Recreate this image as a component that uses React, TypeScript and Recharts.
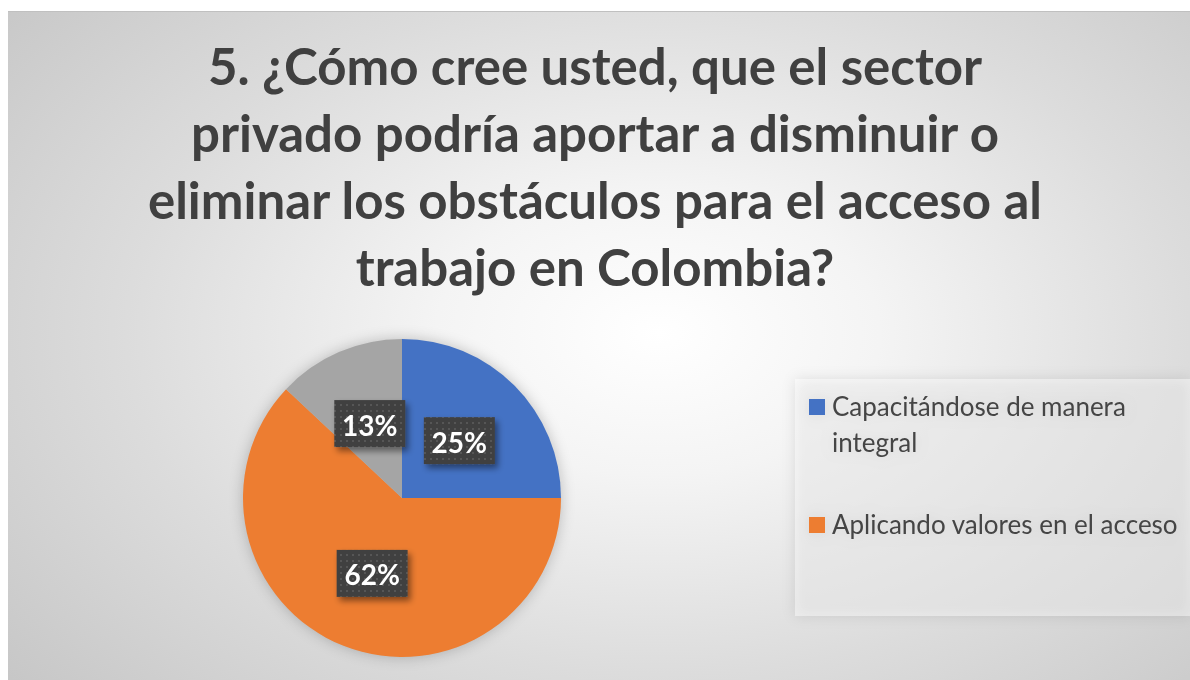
import React from 'react';
import { PieChart, Pie, Cell, Legend } from 'recharts';

// ── Data ──────────────────────────────────────────────────────────────────────
const TITLE_LINES = [
  '5. ¿Cómo cree usted, que el sector',
  'privado podría aportar a disminuir o',
  'eliminar los obstáculos para el acceso al',
  'trabajo en Colombia?',
];
const CATEGORIES = ['Capacitándose de manera integral', 'Aplicando valores en el acceso', 'Otro'];
const VALUES = [25, 62, 13];
const COLORS = ['#4472C4', '#ED7D31', '#A5A5A5'];
// only the first two entries fit in the legend box of the original
const LEGEND_SHOWN = ['Capacitándose de manera integral', 'Aplicando valores en el acceso'];

const data = CATEGORIES.map((name, i) => ({ name, value: VALUES[i] }));

const W = 1182;
const H = 669;
const FONT = 'Lato, "Open Sans", sans-serif';
const RADIAN = Math.PI / 180;

// ── Dark boxed percentage label ─────────────────────────────────────────────
const BoxLabel = (props: any) => {
  const { cx, cy, midAngle, outerRadius, percent } = props;
  const r = outerRadius * 0.51;
  const x = cx + r * Math.cos(-midAngle * RADIAN);
  const y = cy + r * Math.sin(-midAngle * RADIAN);
  const bw = 71;
  const bh = 47;
  return (
    <g>
      <rect x={x - bw / 2} y={y - bh / 2} width={bw} height={bh} fill="url(#dotPattern)" filter="url(#labelShadow)" />
      <text x={x} y={y + 1} fill="#ffffff" fontSize={28} fontWeight={700} fontFamily={FONT} textAnchor="middle" dominantBaseline="central">
        {`${Math.round(percent * 100)}%`}
      </text>
    </g>
  );
};

// ── Legend ───────────────────────────────────────────────────────────────────
const LegendBox = ({ payload }: any) => {
  const items = (payload || [])
    .filter((p: any) => LEGEND_SHOWN.includes(p.value))
    .sort((a: any, b: any) => CATEGORIES.indexOf(a.value) - CATEGORIES.indexOf(b.value));
  return (
    <div style={{ width: 395, height: 237, background: 'rgba(255,255,255,0.45)', boxSizing: 'border-box', paddingTop: 9, paddingLeft: 14 }}>
      {items.map((p: any, i: number) => (
        <div key={p.value} style={{ display: 'flex', alignItems: 'flex-start', height: i === 0 ? 118 : 40 }}>
          <span style={{ width: 16, height: 16, background: p.color, marginTop: 11, marginRight: 7, flexShrink: 0 }} />
          <span style={{ width: 358, fontFamily: FONT, fontSize: 26, lineHeight: '36px', color: '#454545' }}>{p.value}</span>
        </div>
      ))}
    </div>
  );
};

export default function App() {
  return (
    <div>
      <style>{'body{margin:0;overflow:hidden;background:#fff}'}</style>
      <svg width={0} height={0} style={{ position: 'absolute' }}>
        <defs>
          <pattern id="dotPattern" width={6} height={6} patternUnits="userSpaceOnUse">
            <rect width={6} height={6} fill="#404040" />
            <rect x={2} y={2} width={2} height={2} fill="#565656" />
          </pattern>
          <filter id="labelShadow" x="-30%" y="-30%" width="160%" height="170%">
            <feDropShadow dx={3} dy={4} stdDeviation={3} floodColor="#000" floodOpacity={0.45} />
          </filter>
        </defs>
      </svg>
      <div
        style={{
          position: 'absolute',
          left: 8,
          top: 11,
          width: W,
          height: H,
          borderTop: '1px solid #c0c0c0',
          background: 'radial-gradient(ellipse 75% 85% at 55% 48%, #ffffff 0%, #f4f4f4 25%, #dcdcdc 60%, #c4c4c4 100%)',
        }}
      >
        <div
          style={{
            position: 'absolute',
            left: 0,
            top: 20,
            width: W - 8,
            textAlign: 'center',
            fontFamily: FONT,
            fontWeight: 700,
            fontSize: 51,
            lineHeight: '67px',
            color: '#404040',
          }}
        >
          {TITLE_LINES.map((l) => (
            <div key={l}>{l}</div>
          ))}
        </div>
        <div style={{ position: 'absolute', left: 0, top: 0 }}>
          <PieChart width={W} height={H} style={{ filter: 'drop-shadow(0 0 7px rgba(0,0,0,0.22))' }}>
            <Pie
              data={data}
              dataKey="value"
              nameKey="name"
              cx={389}
              cy={481}
              outerRadius={159}
              startAngle={90}
              endAngle={-270}
              stroke="none"
              label={BoxLabel}
              labelLine={false}
              isAnimationActive={false}
            >
              {data.map((d, i) => (
                <Cell key={d.name} fill={COLORS[i]} />
              ))}
            </Pie>
            <Legend content={<LegendBox />} wrapperStyle={{ position: 'absolute', left: 787, top: 367, width: 395, height: 237 }} />
          </PieChart>
        </div>
      </div>
    </div>
  );
}
